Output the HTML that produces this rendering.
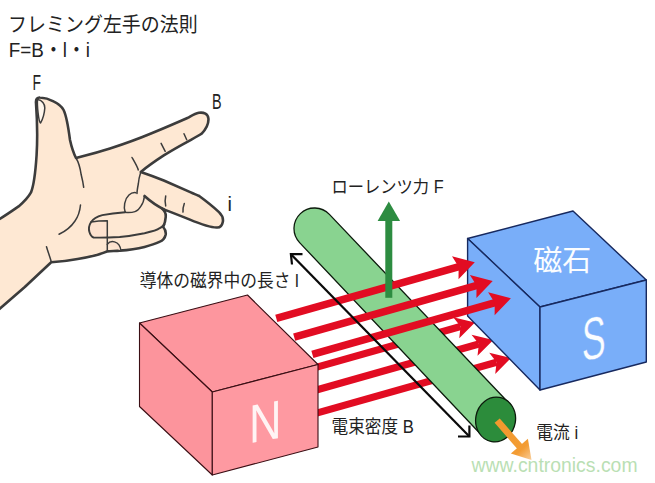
<!DOCTYPE html>
<html lang="ja">
<head>
<meta charset="utf-8">
<title>フレミング左手の法則</title>
<style>
  html, body { margin: 0; padding: 0; background: #ffffff; }
  body { width: 655px; height: 483px; overflow: hidden; position: relative;
         font-family: "Liberation Sans", "Noto Sans CJK JP", sans-serif; }
  svg { position: absolute; left: 0; top: 0; display: block; }
  .jp { font-family: "Liberation Sans", "Noto Sans CJK JP", sans-serif; fill: #222; }
  .lat { font-family: "Liberation Sans", sans-serif; fill: #222; }
</style>
</head>
<body>
<svg width="655" height="483" viewBox="0 0 655 483">
  <rect x="0" y="0" width="655" height="483" fill="#ffffff"/>

  <!-- ===== lower row of flux arrows (behind conductor) ===== -->
  <g id="arrows-back" fill="#e20c22" stroke="none">
    <g transform="translate(475,322.4) rotate(-15.8)">
      <rect x="-190" y="-3.6" width="175" height="7.2"/>
      <polygon points="0,0 -19.5,-11 -15,0 -19.5,11"/>
    </g>
    <g transform="translate(493.3,339.9) rotate(-15.8)">
      <rect x="-205" y="-3.6" width="190" height="7.2"/>
      <polygon points="0,0 -19.5,-11 -15,0 -19.5,11"/>
    </g>
    <g transform="translate(511,358.1) rotate(-15.8)">
      <rect x="-225" y="-3.6" width="210" height="7.2"/>
      <polygon points="0,0 -19.5,-11 -15,0 -19.5,11"/>
    </g>
  </g>

  <!-- ===== conductor (green cylinder) ===== -->
  <g id="conductor">
    <path d="M 329.4 214.4 L 510.9 405.2 L 480 433.5 L 299.6 242.6 A 20.5 20.5 0 0 1 329.4 214.4 Z"
          fill="#89d390" stroke="#0c1a0c" stroke-width="1.3" stroke-linejoin="round"/>
    <ellipse cx="495.6" cy="419.5" rx="19.9" ry="22.5" transform="rotate(10 495.6 419.5)" fill="#2c8c3b" stroke="#0c1a0c" stroke-width="1.3"/>
  </g>

  <!-- ===== blue magnet (S) ===== -->
  <g id="magnet-s" stroke="#17295f" stroke-width="1.4" stroke-linejoin="round">
    <polygon points="467.6,238.5 573,211 646.3,280 540,307" fill="#79aef9"/>
    <polygon points="467.6,238.5 540,307 540,390 467.6,316" fill="#79aef9"/>
    <polygon points="540,307 646.3,280 646.3,362 540,390" fill="#79aef9"/>
  </g>

  <!-- ===== upper row of flux arrows (in front of conductor) ===== -->
  <g id="arrows-front" fill="#e20c22" stroke="none">
    <g transform="translate(474.5,262.3) rotate(-15.8)">
      <rect x="-206" y="-3.8" width="190" height="7.6"/>
      <polygon points="0.3,0 -20,-12 -16.5,0 -20,12"/>
    </g>
    <g transform="translate(492.4,281) rotate(-15.8)">
      <rect x="-206" y="-3.8" width="190" height="7.6"/>
      <polygon points="0.3,0 -20,-12 -16.5,0 -20,12"/>
    </g>
    <g transform="translate(510.6,298.3) rotate(-15.8)">
      <rect x="-206" y="-3.8" width="190" height="7.6"/>
      <polygon points="0.3,0 -20,-12 -16.5,0 -20,12"/>
    </g>
  </g>

  <!-- ===== red magnet (N) ===== -->
  <g id="magnet-n" stroke="#3a0e14" stroke-width="1.1" stroke-linejoin="round">
    <polygon points="139.5,323 247.5,295 318,364.5 212.3,392" fill="#fd969e"/>
    <polygon points="139.5,323 212.3,392 212.3,475 139.5,406.5" fill="#fc949c"/>
    <polygon points="212.3,392 318,364.5 318,447 212.3,475" fill="#fe99a1"/>
  </g>

  <!-- ===== Lorentz force arrow ===== -->
  <g id="force" fill="#2d8c41">
    <rect x="385.3" y="219" width="7" height="78.8"/>
    <polygon points="388.8,201.4 400.1,221 377.6,221"/>
  </g>

  <!-- ===== length double arrow ===== -->
  <g id="length" fill="none" stroke="#0a0a0a" stroke-width="2.2" stroke-linecap="butt" stroke-linejoin="miter">
    <line x1="290.9" y1="254.2" x2="469.4" y2="436.5"/>
    <polyline points="292,264.5 290.9,254.2 302.5,254.2"/>
    <polyline points="469.4,425.5 469.4,436.5 458,436.5"/>
  </g>

  <!-- ===== current arrow ===== -->
  <defs>
    <linearGradient id="og" gradientUnits="userSpaceOnUse" x1="-52" y1="0" x2="0" y2="0">
      <stop offset="0" stop-color="#f2992d"/>
      <stop offset="0.72" stop-color="#f39c33"/>
      <stop offset="1" stop-color="#f9cf9c"/>
    </linearGradient>
  </defs>
  <g id="current" fill="url(#og)" transform="translate(531.5,460.1) rotate(49)">
    <rect x="-52.3" y="-3.4" width="36" height="6.8"/>
    <polygon points="0,0 -18.5,-11.3 -18.5,11.3"/>
  </g>

  <!-- ===== hand ===== -->
  <g id="hand" stroke="#3c3c3c" stroke-width="2.6" stroke-linejoin="round" stroke-linecap="round" fill="none">
    <path fill="#fee8d3" d="M -3 220.5 C 5 216 12 211 18.6 206.4 C 25 201 29 196 31 192.4
      C 34 185 35.5 172 36.6 155 C 37.5 140 37.2 120 36 103 C 35.6 99 37.5 97.3 40 97.5
      C 46 97.8 50 99.5 53.5 101.4 C 59 104 62 107 63.6 110 C 67 117 68.3 127 70 140
      C 72 149 74 154 76 158 C 88 155 100 152 110 148.6 C 124 144 138 139 150.4 133.8
      C 163 128.5 176 123 188 117.7 C 192 115.5 195 113.5 198.8 112.8
      C 204 112 208 114 208.4 118.5 C 208.8 123 207 128 201.5 133.8
      C 198 136.5 180 145 163.8 155.4 C 156 160.5 148 166 140.8 171.9
      C 148 174.3 156 177.3 163.8 180.5 C 173 184.5 182 188.5 190.8 192.4 C 194 194 197 194.8 199.2 196 C 206 201 213 206.5 219 212.1
      C 222 215 223.5 218.5 222.8 222 C 222 226 219.5 227.8 216.6 227.5
      C 210 227.6 200 223.8 189.3 219.4 C 181 216 172 212.5 164.4 209.6 L 162 208.6
      C 165 211 166 214 165.7 217.1 C 165.5 221 164.5 224 163.2 227
      C 165 229 166 232 165.7 234.5 C 165 238 163 240.5 159.4 241.9
      C 155 244 150 245.5 144.5 246.9 C 136 249 128 250 119.7 250.6
      C 115 251 111 251 107.3 251.4 C 103 253 99 254.5 94.8 255.6
      C 88 257.3 83 258.3 77.6 259 C 70 260.5 60 261.7 51.2 262.2
      L 24.8 287 L -3 311 Z"/>
    <!-- ring finger nail -->
    <path fill="#fde2cf" stroke="none" d="M 91.1 222 C 96 221.2 102 220.8 107.3 220.8 L 107.3 237.3 L 93.6 237.5 C 90.5 235.5 88.5 229 91.1 222 Z"/>
    <!-- middle finger lower edge running into palm -->
    <path d="M 164.4 209.6 C 157 206 150 201 144.5 196"/>
    <g stroke-width="1.5">
      <!-- thumbnail -->
      <path fill="#fff6ec" d="M 37.5 99.5 C 42 100 45 104 44.8 108 C 44.4 114 42.8 119 40.6 123 C 38.5 122 37 105 37.5 99.5"/>
      <!-- creases around V -->
      <path d="M 132 157.5 C 134 161 137 166 138.3 169.9"/>
      <path d="M 140.8 171.9 C 139.5 176 138.5 181 138.3 184 C 137.5 188 137 191 137 193.5"/>
      <!-- knuckle bump of ring finger -->
      <path d="M 135.8 192.7 C 131 192 126 196 124.7 203.4 C 124 207 124.2 210 125.2 212.3"/>
      <path d="M 144.5 196 C 144 200 142.5 204 141 206 C 139 209.5 137 211 135 211.6 C 132 212.5 128 212.6 125.2 212.3"/>
      <!-- ring finger -->
      <path stroke-width="1.9" d="M 125.2 212.3 C 115 213 108 214 102.3 215.1 C 97 216.5 93 219 91.1 222
        C 88.5 226 88.5 229 89.4 232 C 90.5 235.5 92 237 93.6 237.5 C 100 237.8 110 237.5 119.7 237
        C 130 236 138 234.5 144.5 233.2 C 152 231.5 158 229.5 159.4 228.3 C 161 227.5 163 226 164.4 224.5"/>
      <path d="M 91.1 222 C 96 221.2 102 220.8 107.3 220.8 L 107.3 237.3"/>
      <!-- little finger nail -->
      <path d="M 107.3 237.3 L 107.3 251"/>
      <path fill="#fde2cf" d="M 107.3 244.4 C 109 242 112 241.2 114.5 241.9 C 118 243 120.5 246.5 120.9 250.6"/>
      <!-- palm creases -->
      <path d="M 76 158 C 78.5 162 80.5 170 81.2 174.8 C 82.5 180 83.3 184 83.7 187.3"/>
      <path d="M 80.5 205 C 80 210 78.5 216 75 221 C 71 227 65 231.5 59 234.3"/>
      <path d="M 46.5 246.7 C 48 252 50 257 51.2 261.5"/>
      <!-- finger joints -->
      <path d="M 161.1 143.3 L 165.2 151.3"/>
      <path d="M 184 133.8 L 186.7 139.8"/>
      <path d="M 165.7 196 C 165 199 165 203 165.7 205.9"/>
      <path d="M 184.3 203.4 C 183.3 206 182.8 209 183 212.1"/>
    </g>
  </g>

  <!-- ===== text ===== -->
  <text class="jp" transform="translate(8.1,32) scale(0.93,1)" font-size="20.4">フレミング左手の法則</text>
  <text class="jp" transform="translate(8.8,57) scale(0.915,1)" font-size="20.6">F=B・l・i</text>
  <text class="lat" transform="translate(32.4,90) scale(0.62,1)" font-size="22.4">F</text>
  <text class="lat" transform="translate(212,109) scale(0.66,1)" font-size="21.8">B</text>
  <text class="lat" x="227.5" y="211" font-size="20">i</text>
  <text class="jp" transform="translate(331.6,193.2) scale(0.93,1)" font-size="17.5">ローレンツ力 F</text>
  <text class="jp" transform="translate(139.8,287) scale(0.93,1)" font-size="18">導体の磁界中の長さ l</text>
  <text class="jp" transform="translate(331.5,432.5) scale(0.93,1)" font-size="17.9">電束密度 B</text>
  <text class="jp" transform="translate(536.3,439.3) scale(0.93,1)" font-size="18">電流 i</text>
  <text class="jp" x="533.3" y="271" font-size="29" style="fill:#fbfdff">磁石</text>
  <text class="lat" transform="translate(581.8,361.4) skewY(-12) scale(0.6,1)" font-size="60" style="fill:#fbfdff;stroke:#79aef9;stroke-width:0.5;paint-order:fill stroke">S</text>
  <text class="lat" transform="translate(249.0,443.4) skewY(-10.5) scale(0.83,1)" font-size="54.4" style="fill:#fff4f4">N</text>
  <text class="lat" x="471.6" y="472" font-size="19.4" style="fill:#badfb4">www.cntronics.com</text>
</svg>
</body>
</html>
